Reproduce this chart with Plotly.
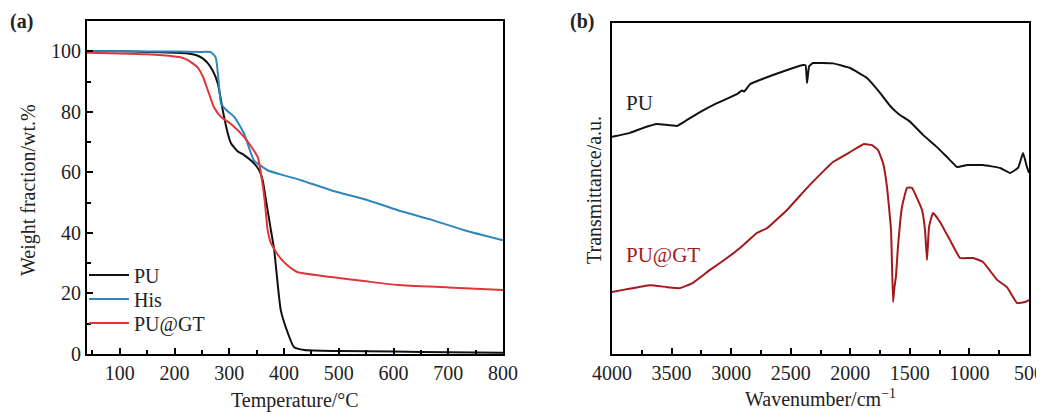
import plotly.graph_objects as go

# ---------------- (a) TGA data ----------------
T_pu = [40, 100, 150, 200, 224, 240, 250, 261, 270, 279, 288, 297, 303, 315, 327, 345, 355, 361, 367, 375, 382, 394, 407, 418, 437, 500, 600, 700, 800]
W_pu = [100, 100, 99.8, 99.5, 99.3, 98.7, 97.8, 96, 93.5, 89.4, 80.5, 73, 69.6, 67, 65.7, 63, 60.5, 57.4, 50.8, 42, 34.3, 14.5, 6.9, 2.3, 1.3, 1.0, 0.8, 0.6, 0.4]

T_his = [40, 100, 200, 250, 266, 275, 281, 285, 295, 309, 327, 345, 370, 400, 431, 486, 553, 608, 670, 729, 800]
W_his = [100, 100, 99.9, 99.8, 99.7, 98, 89, 82.7, 80.5, 78.3, 72.8, 64, 60.7, 59, 57.4, 54.1, 50.8, 47.5, 44.3, 40.9, 37.6]

T_gt = [40, 100, 150, 200, 211, 225, 242, 252, 261, 272, 285, 303, 327, 352, 360, 365, 370, 376, 385, 394, 405, 418, 425, 486, 550, 608, 700, 800]
W_gt = [99.5, 99.3, 99, 98.3, 98, 97, 94.7, 91.5, 87, 81.5, 78.3, 76, 71.7, 65, 57, 50, 41, 36.6, 33.8, 31.5, 29.5, 27.7, 27, 25.4, 24, 22.8, 22, 21.1]

series_names = ["PU", "His", "PU@GT"]

# ---------------- (b) FTIR data (arbitrary units) ----------------
wn_pu = [4000, 3849, 3740, 3622, 3454, 3370, 3261, 3119, 2951, 2909, 2890, 2842, 2649, 2481, 2397, 2375, 2363, 2345, 2313, 2145, 2002, 1860, 1750, 1667, 1620, 1583, 1499, 1390, 1272, 1188, 1104, 1020, 886, 743, 660, 592, 550, 517, 500]
tr_pu = [65.6, 66.8, 68.3, 69.5, 68.9, 70.7, 73.1, 75.8, 78.5, 79.6, 79.3, 81.5, 84.3, 86.4, 87.3, 87.2, 81.9, 87.0, 87.9, 87.8, 86.4, 83.4, 78.9, 75.0, 73.3, 72.2, 70.2, 66.2, 62.5, 59.5, 56.5, 57.1, 57.1, 56.2, 54.7, 56.2, 60.7, 56.5, 54.7]

wn_gt = [4000, 3874, 3681, 3538, 3429, 3320, 3177, 3035, 2926, 2783, 2700, 2649, 2531, 2363, 2246, 2145, 2002, 1890, 1817, 1767, 1725, 1692, 1658, 1641, 1630, 1617, 1600, 1566, 1524, 1482, 1440, 1398, 1373, 1356, 1339, 1306, 1247, 1163, 1079, 970, 886, 768, 685, 600, 533, 500]
tr_gt = [18.7, 19.6, 20.8, 20.2, 19.9, 21.5, 25.4, 29.0, 32.0, 36.6, 38.0, 39.6, 43.5, 50.2, 54.5, 58.0, 61.0, 63.4, 63.1, 61.6, 57.7, 50.5, 37.5, 15.7, 20.0, 23.3, 32.3, 44.4, 50.2, 50.2, 47.1, 43.5, 37.5, 28.4, 38.4, 42.6, 39.9, 34.4, 29.0, 29.0, 27.8, 22.4, 20.2, 15.4, 15.7, 16.3]

# ---------------- styles ----------------
FONT = "Liberation Serif, Times New Roman, serif"
c_black = "#111111"
c_blue = "#2f86bd"
c_red = "#e0363a"
c_dred = "#a3191c"

fig = go.Figure()
fig.add_trace(go.Scatter(x=T_pu, y=W_pu, mode="lines", name=series_names[0], legend="legend",
                         line=dict(color=c_black, width=2, shape="spline", smoothing=0.5)))
fig.add_trace(go.Scatter(x=T_his, y=W_his, mode="lines", name=series_names[1], legend="legend2",
                         line=dict(color=c_blue, width=2, shape="spline", smoothing=0.5)))
fig.add_trace(go.Scatter(x=T_gt, y=W_gt, mode="lines", name=series_names[2], legend="legend3",
                         line=dict(color=c_red, width=2, shape="spline", smoothing=0.5)))

fig.add_trace(go.Scatter(x=wn_pu, y=tr_pu, mode="lines", showlegend=False,
                         line=dict(color=c_black, width=2, shape="spline", smoothing=0.3), xaxis="x2", yaxis="y2"))
fig.add_trace(go.Scatter(x=wn_gt, y=tr_gt, mode="lines", showlegend=False,
                         line=dict(color=c_dred, width=2, shape="spline", smoothing=0.3), xaxis="x2", yaxis="y2"))

# page body has an 8px margin: the figure is sized and placed to compensate
OFF = 8
W, H = 1044 - OFF, 414 - OFF
def px_x(p):
    return (p - OFF) / W
def px_y(p):
    return 1 - (p - OFF) / H

axis_common = dict(showline=True, linecolor="black", linewidth=2, mirror=True,
                   showgrid=False, zeroline=False, automargin=False,
                   tickfont=dict(family=FONT, size=20, color="#222"))

def leg(ypx):
    return dict(x=px_x(84), y=px_y(ypx), xanchor="left", yanchor="middle",
                bgcolor="rgba(0,0,0,0)", itemwidth=40,
                font=dict(family=FONT, size=20, color="#222"))

fig.update_layout(
    width=W, height=H, autosize=False,
    margin=dict(l=0, r=0, t=0, b=0, pad=0, autoexpand=False),
    paper_bgcolor="white", plot_bgcolor="white",
    font=dict(family=FONT, color="#222"),
    xaxis=dict(domain=[px_x(87), px_x(503)], range=[40, 800],
               tickvals=[100, 200, 300, 400, 500, 600, 700, 800],
               ticks="inside", ticklen=6, tickwidth=2, tickcolor="black",
               minor=dict(dtick=50, tick0=50, ticks="inside", ticklen=4, tickwidth=1.5, tickcolor="black"),
               anchor="y", **axis_common),
    yaxis=dict(domain=[px_y(354), px_y(21)], range=[0, 110],
               tickvals=[0, 20, 40, 60, 80, 100],
               ticks="inside", ticklen=6, tickwidth=2, tickcolor="black",
               minor=dict(dtick=10, tick0=0, ticks="inside", ticklen=4, tickwidth=1.5, tickcolor="black"),
               anchor="x", **axis_common),
    xaxis2=dict(domain=[px_x(612), px_x(1029)], range=[4000, 500],
                tickvals=[4000, 3500, 3000, 2500, 2000, 1500, 1000, 500],
                ticks="inside", ticklen=6, tickwidth=2, tickcolor="black",
                minor=dict(dtick=250, tick0=250, ticks="inside", ticklen=4, tickwidth=1.5, tickcolor="black"),
                anchor="y2", **axis_common),
    yaxis2=dict(domain=[px_y(354), px_y(23)], range=[0, 100],
                showticklabels=False, ticks="",
                anchor="x2", **axis_common),
    showlegend=True,
    legend=leg(275),
    legend2=leg(299),
    legend3=leg(323),
)

ann = [
    dict(text="<b>(a)</b>", x=px_x(8), y=px_y(21), xanchor="left", yanchor="middle", font=dict(size=20)),
    dict(text="<b>(b)</b>", x=px_x(568), y=px_y(21), xanchor="left", yanchor="middle", font=dict(size=20)),
    dict(text="Temperature/°C", x=px_x(295), y=px_y(400), xanchor="center", yanchor="middle", font=dict(size=20)),
    dict(text="Weight fraction/wt.%", x=px_x(28), y=px_y(190), xanchor="center", yanchor="middle", textangle=-90, font=dict(size=20)),
    dict(text="Wavenumber/cm<sup>−1</sup>", x=px_x(820), y=px_y(398), xanchor="center", yanchor="middle", font=dict(size=20)),
    dict(text="Transmittance/a.u.", x=px_x(594), y=px_y(190), xanchor="center", yanchor="middle", textangle=-90, font=dict(size=20)),
    dict(text="PU", x=px_x(624), y=px_y(103), xanchor="left", yanchor="middle", font=dict(size=21, color="#222")),
    dict(text="PU@GT", x=px_x(624), y=px_y(255), xanchor="left", yanchor="middle", font=dict(size=21, color=c_dred)),
]
for a in ann:
    a.update(xref="paper", yref="paper", showarrow=False)
    a["font"] = dict(family=FONT, color=a["font"].get("color", "#222"), size=a["font"]["size"])
fig.update_layout(annotations=ann)

fig.write_html("out.html", post_script="document.documentElement.style.overflow='hidden';document.body.style.overflow='hidden';")
